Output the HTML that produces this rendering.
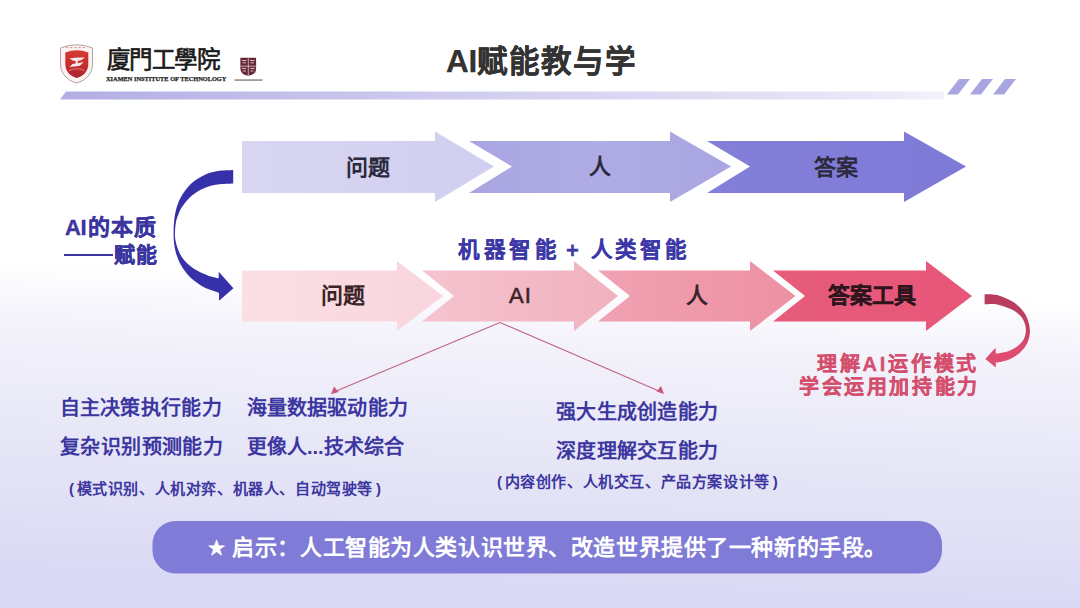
<!DOCTYPE html>
<html lang="zh-CN"><head><meta charset="utf-8">
<style>
html,body{margin:0;padding:0;}
body{width:1080px;height:608px;overflow:hidden;position:relative;font-family:"Liberation Sans",sans-serif;
background:linear-gradient(182deg,#ffffff 0px,#ffffff 300px,#f6f5fc 345px,#eeedf9 405px,#e4e3f6 505px,#dad9f4 608px);}
.t{position:absolute;white-space:nowrap;line-height:1;font-weight:700;}
.s{}
svg{position:absolute;left:0;top:0;}
</style></head><body>
<svg width="1080" height="608" viewBox="0 0 1080 608">
<defs>
<linearGradient id="bar" x1="0" x2="1" y1="0" y2="0">
<stop offset="0" stop-color="#b2aee4"/><stop offset="0.5" stop-color="#d2d0f0"/><stop offset="0.85" stop-color="#e5e3f6"/><stop offset="0.95" stop-color="#ecebf9"/><stop offset="1" stop-color="#f4f3fb"/>
</linearGradient>
<linearGradient id="ta1" x1="0" x2="1"><stop offset="0" stop-color="#d8d6f2"/><stop offset="1" stop-color="#d1cfef"/></linearGradient>
<linearGradient id="ta2" x1="0" x2="1"><stop offset="0" stop-color="#a9a5e1"/><stop offset="0.5" stop-color="#aface5"/><stop offset="1" stop-color="#a8a5e1"/></linearGradient>
<linearGradient id="ta3" x1="0" x2="1"><stop offset="0" stop-color="#8480d9"/><stop offset="1" stop-color="#7d79d6"/></linearGradient>
<linearGradient id="ba1" x1="0" x2="1"><stop offset="0" stop-color="#fbdfe5"/><stop offset="1" stop-color="#f9d5dd"/></linearGradient>
<linearGradient id="ba2" x1="0" x2="1"><stop offset="0" stop-color="#f5c3ce"/><stop offset="1" stop-color="#f1b1bf"/></linearGradient>
<linearGradient id="ba3" x1="0" x2="1"><stop offset="0" stop-color="#f0a2b3"/><stop offset="1" stop-color="#ed90a3"/></linearGradient>
<linearGradient id="ba4" x1="0" x2="1"><stop offset="0" stop-color="#e55c7a"/><stop offset="1" stop-color="#e85679"/></linearGradient>
<linearGradient id="rc" x1="0" x2="0" y1="0" y2="1"><stop offset="0" stop-color="#b63c5a"/><stop offset="0.45" stop-color="#c04064"/><stop offset="0.75" stop-color="#de4c70"/><stop offset="1" stop-color="#e04e72"/></linearGradient>
</defs>
<!-- header bar -->
<polygon points="66,91.5 944,91.5 944,99.5 60,99.5" fill="url(#bar)"/>
<polygon points="959,79 970,79 958,94.5 947,94.5" fill="#a9a5e0"/>
<polygon points="982,79 993,79 981,94.5 970,94.5" fill="#a9a5e0"/>
<polygon points="1005,79 1016,79 1004,94.5 993,94.5" fill="#a9a5e0"/>

<!-- logo shield -->
<linearGradient id="red" x1="0" x2="0" y1="0" y2="1"><stop offset="0" stop-color="#d33a34"/><stop offset="0.6" stop-color="#c42c2e"/><stop offset="1" stop-color="#a82434"/></linearGradient>
<path d="M60.5,48 Q76.5,41.5 92.5,48 L92.5,64 C92.5,75 84,81 76.5,83 C69,81 60.5,75 60.5,64 Z" fill="#fbf1ef" stroke="#a89898" stroke-width="0.9"/>
<path d="M65.3,52.5 Q76.6,48.2 88.3,52.5 L88.3,64 C88.3,72 82.5,76.5 76.7,78 C71,76.5 65.3,72 65.3,64 Z" fill="url(#red)"/>
<path d="M69.5,58.5 Q76,57 85,57.5 L80.5,60.5 L77.8,60.8 L77.6,63.2 Q82,62.5 84,61.5 L80,65.8 Q74,66.8 69.5,67 L72.5,64 L75.6,63.6 L75.7,61 Q72.5,61 69.5,58.5 Z" fill="#f8ecea"/>
<path d="M69,70.5 Q76.6,67 84.5,70.5" stroke="#e0857c" stroke-width="0.9" fill="none"/>
<path d="M66,47.5 h21" stroke="#d89a94" stroke-width="1.1" stroke-dasharray="2.2,2"/>
<!-- small emblem -->
<path d="M240.4,57.7 L256.1,57.7 L256.1,69 Q256,74.5 248.3,75.8 Q240.5,74.5 240.4,69 Z" fill="#642638"/>
<path d="M248.3,58 V75.5 M240.8,66.2 H255.8" stroke="#f2dfe3" stroke-width="0.7"/>
<path d="M242,60.5 h4.5 M250,60.5 h4.5 M242.5,62.8 h3.5 M250.5,62.8 h3.5 M242,68.5 h4 M250.5,68.5 h4 M243,71 h3 M250.5,71 h3" stroke="#d9b8c0" stroke-width="1"/>
<rect x="234.5" y="79.4" width="28" height="1.3" fill="#7d7678"/>

<!-- top arrows -->
<polygon points="242,141 435,141 435,131.5 494,166.5 435,202 435,193 242,193" fill="url(#ta1)"/>
<polygon points="469,141 670,141 670,131.5 731,166.5 670,202 670,193 469,193 512,166.5" fill="url(#ta2)"/>
<polygon points="707,141 904,141 904,131.5 966,166.5 904,202 904,193 707,193 750,166.5" fill="url(#ta3)"/>

<!-- bottom arrows -->
<polygon points="242,270.5 397,270.5 397,261 443,296 397,331 397,321.5 242,321.5" fill="url(#ba1)"/>
<polygon points="422,270.5 574,270.5 574,261 618,296 574,331 574,321.5 422,321.5 454,296" fill="url(#ba2)"/>
<polygon points="598,270.5 750,270.5 750,261 795.5,296 750,331 750,321.5 598,321.5 630,296" fill="url(#ba3)"/>
<polygon points="773,270.5 926,270.5 926,261 972,296 926,331 926,321.5 773,321.5 805,296" fill="url(#ba4)"/>

<!-- left curved arrow -->
<path fill="#3631a9" d="M233.2,170.0 C230.6,170.2 222.4,170.2 217.6,171.0 C212.8,171.8 208.9,172.8 204.5,174.9 C200.1,177.0 195.1,180.0 191.3,183.4 C187.6,186.8 184.4,191.4 182.0,195.3 C179.6,199.2 178.1,202.9 176.8,207.0 C175.5,211.1 174.7,215.9 174.2,220.0 C173.7,224.1 173.6,227.9 173.6,231.6 C173.6,235.3 173.6,238.8 173.9,242.1 C174.2,245.4 174.8,248.5 175.5,251.3 C176.2,254.2 177.1,256.6 178.2,259.2 C179.3,261.8 180.5,264.5 182.1,267.1 C183.7,269.7 185.8,272.6 188.0,275.0 C190.2,277.4 192.6,279.5 195.3,281.6 C198.1,283.7 200.6,285.6 204.5,287.5 C208.4,289.4 216.6,291.9 219.0,292.8 L219,300.7 L233.4,288.2 L218.7,271.7 L218.7,278.3 C217.0,277.9 211.9,276.9 208.4,275.7 C204.9,274.5 201.0,272.8 197.9,271.1 C194.8,269.5 192.4,267.8 190.0,265.8 C187.6,263.8 185.3,261.6 183.4,259.2 C181.5,256.8 180.1,254.4 178.8,251.3 C177.5,248.2 176.1,244.0 175.5,240.8 C174.9,237.6 174.9,235.1 175.0,232.0 C175.1,228.9 175.4,225.0 176.0,222.0 C176.6,219.0 177.5,216.5 178.5,214.0 C179.5,211.5 179.9,210.0 182.0,207.0 C184.1,204.0 187.6,199.2 191.3,196.0 C195.1,192.8 200.1,189.9 204.5,188.0 C208.9,186.1 212.8,185.3 217.6,184.5 C222.4,183.7 230.6,183.6 233.2,183.4 Z"/>

<!-- right curved arrow -->
<path fill="url(#rc)" d="M984.6,294.2 C986.7,294.3 992.6,293.8 997.2,295.0 C1001.8,296.2 1007.8,298.8 1012.0,301.3 C1016.2,303.8 1019.8,307.2 1022.4,310.2 C1025.0,313.1 1026.2,315.7 1027.5,319.0 C1028.8,322.3 1029.7,326.6 1029.9,329.9 C1030.1,333.2 1029.5,336.2 1028.7,338.9 C1028.0,341.6 1027.1,343.8 1025.4,346.3 C1023.8,348.8 1021.3,351.6 1018.8,353.7 C1016.3,355.8 1013.4,357.4 1010.6,358.7 C1007.9,360.0 1004.8,360.9 1002.3,361.5 C999.8,362.1 996.9,362.4 995.8,362.6 L995.8,367.6 L985.3,359 L995.5,347.8 L995.8,353.6 C996.6,353.5 998.5,353.3 1000.7,352.9 C1002.9,352.5 1006.2,352.1 1008.9,351.0 C1011.6,349.9 1014.8,348.3 1017.1,346.6 C1019.4,344.9 1021.4,342.8 1022.8,340.8 C1024.2,338.8 1024.9,336.6 1025.4,334.5 C1025.9,332.4 1026.0,330.4 1025.8,328.2 C1025.6,326.0 1024.9,323.5 1024.0,321.5 C1023.1,319.5 1022.5,318.0 1020.5,316.0 C1018.5,314.0 1015.9,311.5 1012.0,309.6 C1008.1,307.7 1001.8,305.3 997.2,304.4 C992.6,303.5 986.7,304.2 984.6,304.2 Z"/>

<!-- connector lines -->
<g stroke="#c06584" stroke-width="1.2" fill="none">
<line x1="500" y1="322.5" x2="335" y2="391.5"/>
<line x1="500" y1="322.5" x2="660" y2="391.5"/>
</g>
<polygon points="331,394.2 334,386.5 338.5,392" fill="#c9587a"/>
<polygon points="664,394 656.5,391.5 661,386" fill="#c9587a"/>

<!-- banner -->
<rect x="152.5" y="521" width="789.5" height="52.5" rx="23" fill="#7f7bd6"/>
</svg>

<div class="t" style="left:107px;top:49px;font-size:23.5px;color:#1a1a1a;letter-spacing:-0.6px;font-weight:400;-webkit-text-stroke:0.7px #1a1a1a;">廈門工學院</div>
<div class="t" style="left:106px;top:76px;font-size:6.35px;font-family:'Liberation Serif',serif;color:#222;-webkit-text-stroke:0.25px #222;">XIAMEN INSTITUTE OF TECHNOLOGY</div>

<div class="t s" id="title" style="-webkit-text-stroke:0.25px #333;left:446px;top:46px;font-size:30.5px;color:#333333;"><span style="font-size:31.5px;letter-spacing:-0.3px">AI</span><span style="letter-spacing:2px">赋能教与学</span></div>

<div class="t s" style="left:346px;top:157px;font-size:22px;color:#2b2a3c;">问题</div>
<div class="t s" style="left:589px;top:156px;font-size:22px;color:#2b2a3c;">人</div>
<div class="t s" style="left:814px;top:156.5px;font-size:22px;color:#2b2a3c;">答案</div>

<div class="t s" style="left:321px;top:284.5px;font-size:22px;color:#3a2428;">问题</div>
<div class="t s" style="left:509px;top:284.5px;font-size:22px;font-weight:400;color:#3a2428;letter-spacing:1px;-webkit-text-stroke:0.6px #3a2428;">AI</div>
<div class="t s" style="left:686px;top:285px;font-size:22px;color:#3a2428;">人</div>
<div class="t s" style="left:827.5px;top:284.5px;font-size:22px;color:#2e141c;-webkit-text-stroke:0.3px #2e141c;">答案工具</div>

<div class="t s" style="left:65px;top:216.5px;font-size:22px;color:#3b35a0;letter-spacing:1.1px;-webkit-text-stroke:0.35px #3b35a0;"><span style="letter-spacing:-0.3px">A</span><span style="letter-spacing:1.5px">I</span>的本质</div>
<div style="position:absolute;left:64px;top:254px;width:49px;height:2px;background:#3b35a0;"></div>
<div class="t s" style="left:113.5px;top:244px;font-size:21px;color:#3b35a0;letter-spacing:1px;-webkit-text-stroke:0.35px #3b35a0;">赋能</div>

<div class="t s" style="left:458px;top:239.5px;font-size:21.5px;color:#3d38a8;letter-spacing:3.5px;-webkit-text-stroke:0.2px #3d38a8;">机器智能</div>
<div class="t s" style="left:566px;top:239.5px;font-size:22px;color:#3d38a8;-webkit-text-stroke:0.3px #3d38a8;">+</div>
<div class="t s" style="left:590.5px;top:239.5px;font-size:21.5px;color:#3d38a8;letter-spacing:2.9px;-webkit-text-stroke:0.2px #3d38a8;">人类智能</div>

<div class="t s" style="left:817px;top:353.5px;font-size:20px;color:#d44f6e;-webkit-text-stroke:0.35px #d44f6e;letter-spacing:2.75px;">理解AI运作模式</div>
<div class="t s" style="left:799px;top:376.5px;font-size:20px;color:#d44f6e;-webkit-text-stroke:0.35px #d44f6e;letter-spacing:2.6px;">学会运用加持能力</div>

<div class="t s" style="left:59.5px;top:397.5px;font-size:20px;color:#3b36a0;letter-spacing:0.3px;">自主决策执行能力</div>
<div class="t s" style="left:60px;top:437px;font-size:20px;color:#3b36a0;letter-spacing:0.4px;">复杂识别预测能力</div>
<div class="t s" style="left:247px;top:398px;font-size:20px;color:#3b36a0;letter-spacing:0.1px;">海量数据驱动能力</div>
<div class="t s" style="left:247px;top:436.5px;font-size:20px;color:#3b36a0;">更像人...技术综合</div>
<div class="t s" style="left:69px;top:480.5px;font-size:15px;color:#3b36a0;letter-spacing:0.6px;"><span style="margin-right:2px">(</span>模式识别、人机对弈、机器人、自动驾驶等<span style="margin-left:3px">)</span></div>

<div class="t s" style="left:556px;top:402px;font-size:20px;color:#3b36a0;letter-spacing:0.3px;">强大生成创造能力</div>
<div class="t s" style="left:556px;top:441px;font-size:20px;color:#3b36a0;letter-spacing:0.3px;">深度理解交互能力</div>
<div class="t s" style="left:497px;top:474px;font-size:15px;color:#3b36a0;letter-spacing:0.6px;"><span style="margin-right:2px">(</span>内容创作、人机交互、产品方案设计等<span style="margin-left:3px">)</span></div>

<div class="t s" style="left:208px;top:537px;font-size:22px;color:#ffffff;letter-spacing:0.57px;"><span style="font-size:17px;position:relative;top:-1px;">★</span> 启示：人工智能为人类认识世界、改造世界提供了一种新的手段。</div>

</body></html>
